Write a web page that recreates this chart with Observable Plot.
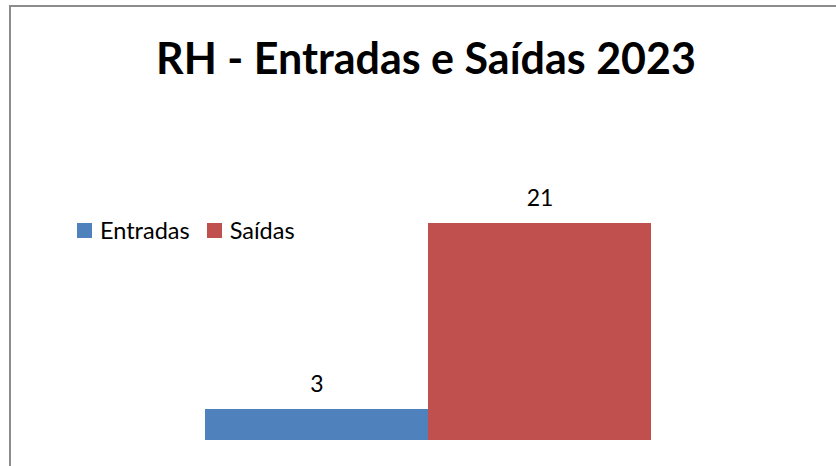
<!DOCTYPE html>
<html>
<head>
<meta charset="utf-8">
<script src="https://cdn.jsdelivr.net/npm/d3@7"></script>
<script src="https://cdn.jsdelivr.net/npm/@observablehq/plot@0.6"></script>
<style>
  html, body { margin: 0; padding: 0; background: #fff; }
  #wrap { position: relative; width: 836px; height: 466px; overflow: hidden; font-family: Lato, "Open Sans", sans-serif; }
  #frame { position: absolute; left: 9px; top: 5px; width: 840px; height: 470px; border-left: 2px solid #8c8c8c; border-top: 2px solid #8c8c8c; box-sizing: border-box; }
  #title { position: absolute; left: 0; width: 852px; top: 29px; text-align: center; font-weight: 700; font-size: 43px; line-height: 58px; color: #000; }
  #legend { position: absolute; left: 77px; top: 215px; font-size: 23.5px; line-height: 30px; color: #000; display: flex; align-items: center; }
  #legend .sw { display: inline-block; width: 15px; height: 15px; margin-right: 8px; }
  #legend .item { display: flex; align-items: center; margin-right: 17px; }
  #chart { position: absolute; left: 0; top: 0; }
</style>
</head>
<body>
<div id="wrap">
  <div id="frame"></div>
  <div id="chart"></div>
  <div id="title"></div>
  <div id="legend"></div>
</div>
<script>
const titleText = "RH - Entradas e Saídas 2023";
const categories = ["Entradas", "Saídas"];
const values = [3, 21];
const colors = ["#4F81BD", "#C0504D"];

const data = categories.map((c, i) => ({category: c, value: values[i]}));

document.getElementById("title").textContent = titleText;

const legend = document.getElementById("legend");
categories.forEach((c, i) => {
  const item = document.createElement("span");
  item.className = "item";
  const sw = document.createElement("span");
  sw.className = "sw";
  sw.style.background = colors[i];
  item.appendChild(sw);
  item.appendChild(document.createTextNode(c));
  legend.appendChild(item);
});

const chart = Plot.plot({
  width: 836,
  height: 466,
  margin: 0,
  style: {background: "transparent", fontFamily: "Lato, 'Open Sans', sans-serif"},
  x: {domain: categories, range: [205, 651], padding: 0, axis: null},
  y: {domain: [0, 21], range: [440, 223], axis: null},
  color: {domain: categories, range: colors},
  marks: [
    Plot.barY(data, {x: "category", y: "value", fill: "category"}),
    Plot.text(data, {x: "category", y: "value", text: d => String(d.value), dy: -18, lineAnchor: "bottom", fontSize: 23, fill: "#000"})
  ]
});
document.getElementById("chart").appendChild(chart);
</script>
</body>
</html>
